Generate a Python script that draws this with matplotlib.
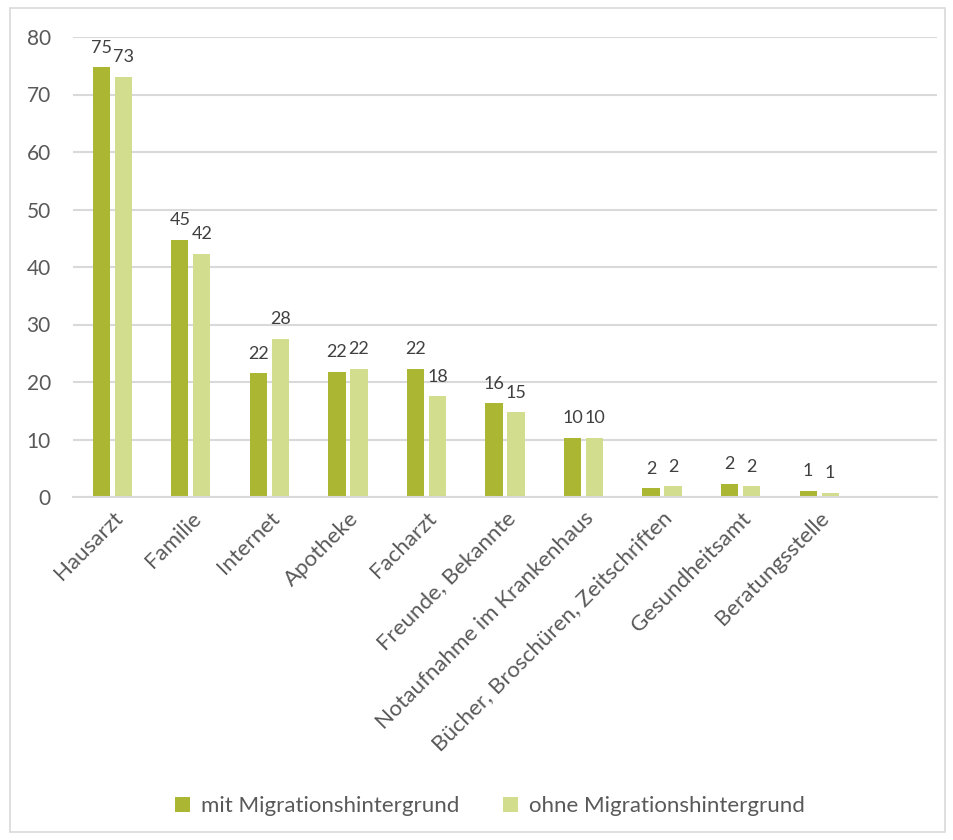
import matplotlib.pyplot as plt
from matplotlib.patches import Rectangle
import numpy as np

plt.rcParams['font.family'] = ['Lato', 'DejaVu Sans']

categories = ['Hausarzt', 'Familie', 'Internet', 'Apotheke', 'Facharzt',
              'Freunde, Bekannte', 'Notaufnahme im Krankenhaus',
              'Bücher, Broschüren, Zeitschriften', 'Gesundheitsamt',
              'Beratungsstelle', '']
mit = [74.7, 44.7, 21.5, 21.8, 22.3, 16.3, 10.3, 1.5, 2.3, 1.1, None]
ohne = [73.1, 42.3, 27.5, 22.3, 17.5, 14.7, 10.3, 1.9, 1.9, 0.7, None]
series_names = ['mit Migrationshintergrund', 'ohne Migrationshintergrund']
colors = ['#ABB733', '#D2DD8E']

fig = plt.figure(figsize=(9.54, 8.4), dpi=100)
ax = fig.add_axes([73/954, 1 - 497/840, 864/954, 460/840])

x = np.arange(len(categories))
w = 0.22
off = 0.14
for vals, dx, c, name in [(mit, -off, colors[0], series_names[0]),
                          (ohne, off, colors[1], series_names[1])]:
    xs = [xi + dx for xi, v in zip(x, vals) if v is not None]
    ys = [v for v in vals if v is not None]
    bars = ax.bar(xs, ys, width=w, color=c, label=name, zorder=2)
    for b, v in zip(bars, ys):
        ax.text(b.get_x() + b.get_width() / 2, v + 2.0, f'{round(v):.0f}',
                ha='center', va='bottom', fontsize=13, color='#404040')

ax.set_xlim(-0.5, len(categories) - 0.5)
ax.set_ylim(0, 80)
ax.set_yticks(range(0, 81, 10))
ax.yaxis.grid(True, color='#D9D9D9', linewidth=1.5, zorder=0)
ax.set_axisbelow(True)
for s in ['top', 'right', 'left']:
    ax.spines[s].set_visible(False)
ax.spines['bottom'].set_color('#D9D9D9')
ax.spines['bottom'].set_linewidth(1.5)
ax.tick_params(axis='both', length=0, colors='#595959')
ax.tick_params(axis='y', pad=16, labelsize=15)
ax.tick_params(axis='x', pad=8, labelsize=16)
ax.set_xticks(x)
ax.set_xticklabels(categories, rotation=45, ha='right', rotation_mode='anchor')

fig.legend(loc='center', bbox_to_anchor=(490/954, 1 - 806/840), ncol=2,
           frameon=False, fontsize=16, labelcolor='#595959',
           handlelength=0.65, handleheight=0.65, columnspacing=2.0,
           handletextpad=0.5)

fig.patches.append(Rectangle((10/954, 8/840), 935/954, 824/840,
                             transform=fig.transFigure, fill=False,
                             edgecolor='#D9D9D9', linewidth=1.2))

plt.savefig('out.png', dpi=100)
